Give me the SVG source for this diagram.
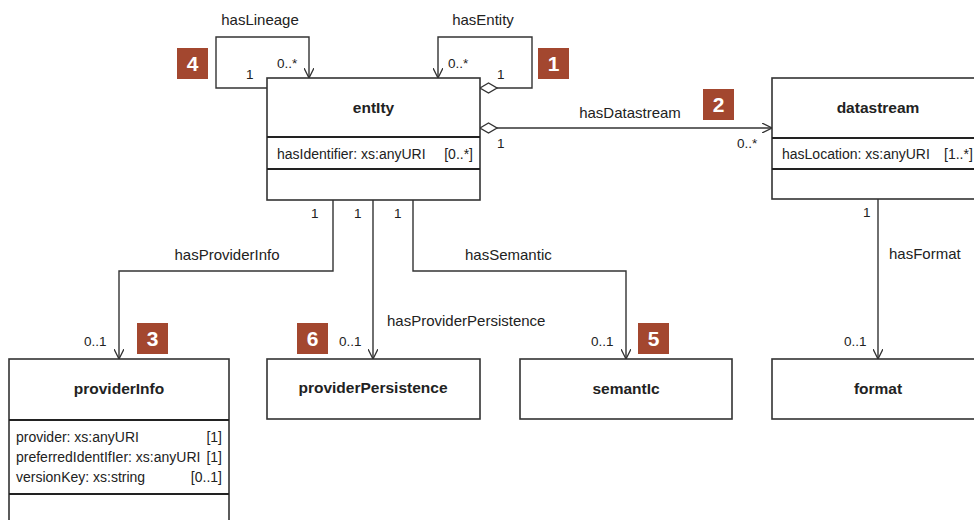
<svg xmlns="http://www.w3.org/2000/svg" width="974" height="520" viewBox="0 0 974 520">
  <style>
    .box { fill: #ffffff; stroke: #333333; stroke-width: 1.6; }
    .div { stroke: #222222; stroke-width: 2.2; }
    .edge { fill: none; stroke: #333333; stroke-width: 1.4; }
    .dia { fill: #ffffff; stroke: #333333; stroke-width: 1.4; }
    .title { font-family: "Liberation Sans", Arial, sans-serif; font-size: 15.5px; font-weight: bold; fill: #222222; text-anchor: middle; }
    .attr { font-family: "Liberation Sans", Arial, sans-serif; font-size: 14px; fill: #222222; }
    .lbl { font-family: "Liberation Sans", Arial, sans-serif; font-size: 15px; fill: #222222; }
    .mult { font-family: "Liberation Sans", Arial, sans-serif; font-size: 13.5px; fill: #222222; }
    .badge { fill: #A3472F; }
    .num { font-family: "Liberation Sans", Arial, sans-serif; font-size: 21px; font-weight: bold; fill: #ffffff; text-anchor: middle; }
  </style>
  <defs>
    <marker id="open" viewBox="0 0 10 10" refX="10" refY="5" markerWidth="10" markerHeight="10" markerUnits="userSpaceOnUse" orient="auto">
      <path d="M0,0 L10,5 L0,10" fill="none" stroke="#333333" stroke-width="1.3"/>
    </marker>
  </defs>

  <rect width="974" height="520" fill="#ffffff"/>

  <!-- associations -->
  <g id="connectors">
    <!-- hasLineage self-loop -->
    <path class="edge" d="M267,88 H216 V37 H309 V78" marker-end="url(#open)"/>
    <!-- hasEntity self-loop (aggregation) -->
    <path class="edge" d="M497,88 H532 V37 H438 V78" marker-end="url(#open)"/>
    <polygon class="dia" points="480,88 488.5,83 497,88 488.5,93"/>
    <!-- hasDatastream (aggregation) -->
    <path class="edge" d="M497,128 H772" marker-end="url(#open)"/>
    <polygon class="dia" points="480,128 488.5,123 497,128 488.5,133"/>
    <!-- hasProviderInfo -->
    <path class="edge" d="M333,200 V271 H119 V359" marker-end="url(#open)"/>
    <!-- hasProviderPersistence -->
    <path class="edge" d="M373,200 V359" marker-end="url(#open)"/>
    <!-- hasSemantic -->
    <path class="edge" d="M413,200 V271 H626 V359" marker-end="url(#open)"/>
    <!-- hasFormat -->
    <path class="edge" d="M878,199 V359" marker-end="url(#open)"/>

    <!-- role names -->
    <text class="lbl" x="260" y="25" text-anchor="middle">hasLineage</text>
    <text class="lbl" x="483" y="25" text-anchor="middle">hasEntity</text>
    <text class="lbl" x="630" y="118" text-anchor="middle">hasDatastream</text>
    <text class="lbl" x="227" y="260" text-anchor="middle">hasProviderInfo</text>
    <text class="lbl" x="387" y="326">hasProviderPersistence</text>
    <text class="lbl" x="465" y="260">hasSemantic</text>
    <text class="lbl" x="889" y="259">hasFormat</text>

    <!-- multiplicities -->
    <text class="mult" x="277" y="68">0..*</text>
    <text class="mult" x="246" y="79">1</text>
    <text class="mult" x="448" y="68">0..*</text>
    <text class="mult" x="497" y="79">1</text>
    <text class="mult" x="497" y="148">1</text>
    <text class="mult" x="737" y="148">0..*</text>
    <text class="mult" x="311" y="218">1</text>
    <text class="mult" x="354" y="218">1</text>
    <text class="mult" x="394" y="218">1</text>
    <text class="mult" x="84" y="346">0..1</text>
    <text class="mult" x="339" y="346">0..1</text>
    <text class="mult" x="591" y="346">0..1</text>
    <text class="mult" x="863" y="217">1</text>
    <text class="mult" x="844" y="346">0..1</text>
  </g>

  <!-- classes -->
  <g id="entity">
    <rect class="box" x="267" y="78" width="213" height="122"/>
    <line class="div" x1="267" y1="137" x2="480" y2="137"/>
    <line class="div" x1="267" y1="169" x2="480" y2="169"/>
    <text class="title" x="373.5" y="113">entIty</text>
    <text class="attr" x="277" y="159">hasIdentifier: xs:anyURI</text>
    <text class="attr" x="473" y="159" text-anchor="end">[0..*]</text>
  </g>

  <g id="datastream">
    <rect class="box" x="772" y="78" width="214" height="121"/>
    <line class="div" x1="772" y1="138" x2="986" y2="138"/>
    <line class="div" x1="772" y1="169" x2="986" y2="169"/>
    <text class="title" x="878" y="113">datastream</text>
    <text class="attr" x="782" y="159">hasLocation: xs:anyURI</text>
    <text class="attr" x="944" y="159">[1..*]</text>
  </g>

  <g id="providerInfo">
    <rect class="box" x="9" y="359" width="220" height="170"/>
    <line class="div" x1="9" y1="420" x2="229" y2="420"/>
    <line class="div" x1="9" y1="494" x2="229" y2="494"/>
    <text class="title" x="119" y="394">providerInfo</text>
    <text class="attr" x="16" y="442">provider: xs:anyURI</text>
    <text class="attr" x="222" y="442" text-anchor="end">[1]</text>
    <text class="attr" x="16" y="462">preferredIdentIfIer: xs:anyURI</text>
    <text class="attr" x="222" y="462" text-anchor="end">[1]</text>
    <text class="attr" x="16" y="482">versionKey: xs:string</text>
    <text class="attr" x="222" y="482" text-anchor="end">[0..1]</text>
  </g>

  <g id="providerPersistence">
    <rect class="box" x="267" y="359" width="213" height="60"/>
    <text class="title" x="373" y="393">providerPersistence</text>
  </g>

  <g id="semantic">
    <rect class="box" x="520" y="359" width="212" height="60"/>
    <text class="title" x="626" y="394">semantIc</text>
  </g>

  <g id="format">
    <rect class="box" x="772" y="359" width="214" height="60"/>
    <text class="title" x="878" y="394">format</text>
  </g>

  <!-- numbered callouts -->
  <g id="badge-1">
    <rect class="badge" x="538" y="48" width="31" height="31"/>
    <text class="num" x="553.5" y="71">1</text>
  </g>
  <g id="badge-2">
    <rect class="badge" x="703" y="89" width="31" height="31"/>
    <text class="num" x="718.5" y="112">2</text>
  </g>
  <g id="badge-3">
    <rect class="badge" x="137" y="323" width="31" height="31"/>
    <text class="num" x="152.5" y="346">3</text>
  </g>
  <g id="badge-4">
    <rect class="badge" x="177" y="48" width="31" height="31"/>
    <text class="num" x="192.5" y="71">4</text>
  </g>
  <g id="badge-5">
    <rect class="badge" x="638" y="323" width="31" height="31"/>
    <text class="num" x="653.5" y="346">5</text>
  </g>
  <g id="badge-6">
    <rect class="badge" x="297" y="323" width="31" height="31"/>
    <text class="num" x="312.5" y="346">6</text>
  </g>
</svg>
